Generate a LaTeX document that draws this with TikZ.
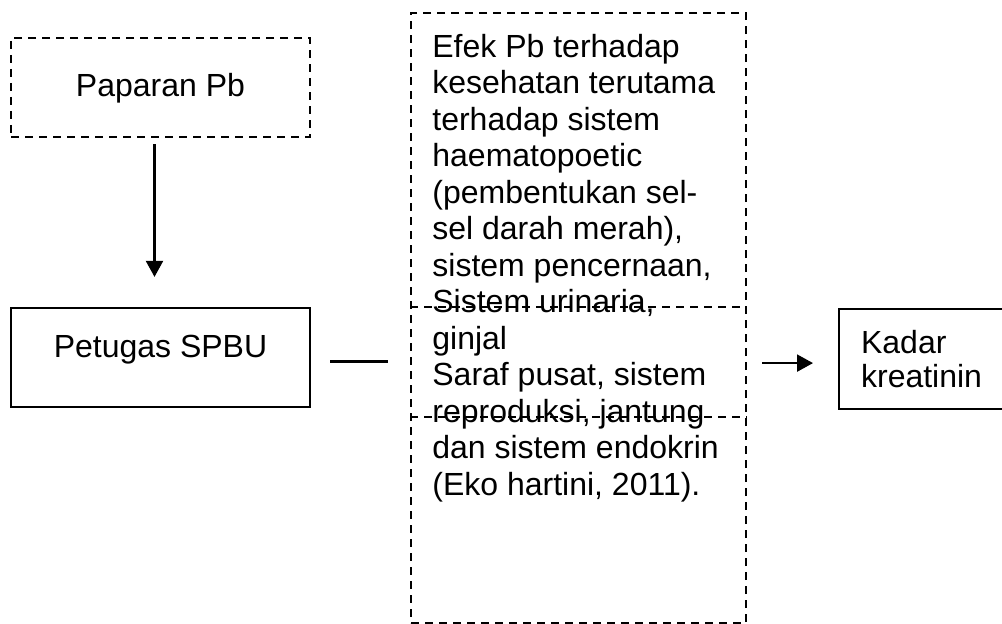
\documentclass[tikz,border=0pt]{standalone}
\usepackage{fontspec}
\setmainfont{Liberation Sans}
\usetikzlibrary{arrows.meta}
\tikzstyle{box} = [rectangle, draw=black, line width=1.1pt, inner sep=0pt, font=\fontsize{16}{18.25}\selectfont]
\tikzstyle{dashbox} = [box, dash pattern=on 4pt off 3pt]
\tikzstyle{arrow} = [line width=1.1pt, -{Triangle[length=8pt,width=8.5pt]}]
\tikzstyle{link} = [line width=1.1pt]

\begin{document}
\begin{tikzpicture}[x=0.5pt, y=-0.5pt]
    \useasboundingbox (0,0) rectangle (1002,624);
    \clip (0,0) rectangle (1002,624);

    \node (paparan) [dashbox, minimum width=149.5pt, text height=29.25pt, text depth=20.25pt] at (160.5,87.5) {Paparan Pb};
    \node (petugas) [box, minimum width=149.5pt, text height=25pt, text depth=24.5pt] at (160.5,357.5) {Petugas SPBU};
    \node (efekbox) [dashbox, anchor=north west, minimum width=167.5pt, minimum height=305pt] at (410,12) {};
    \node (efek) [anchor=north west, align=left, inner sep=0pt, font=\fontsize{16}{18.25}\selectfont] at (432,33.5)
      {Efek Pb terhadap\\kesehatan terutama\\terhadap sistem\\haematopoetic\\(pembentukan sel-\\sel darah merah),\\sistem pencernaan,\\Sistem urinaria,\\ginjal\\Saraf pusat, sistem\\reproduksi, jantung\\dan sistem endokrin\\(Eko hartini, 2011).};
    \node (kadar) [box, anchor=north west, minimum width=86pt, minimum height=50pt, text width=64pt, inner xsep=11pt, align=left, font=\fontsize{16}{17}\selectfont] at (838,308) {Kadar\\kreatinin};

    % dividers inside the dashed text box
    \draw [dashbox] ([yshift=-147.5pt]efekbox.north west) -- ([yshift=-147.5pt]efekbox.north east);
    \draw [dashbox] ([yshift=-202.5pt]efekbox.north west) -- ([yshift=-202.5pt]efekbox.north east);

    \draw [arrow, shorten <=3pt, shorten >=15pt] ([xshift=-3pt]paparan.south) -- ([xshift=-3pt]petugas.north);
    \draw [link, shorten <=9.5pt, shorten >=11pt] ([yshift=-2pt]petugas.east) -- ([yshift=-2pt]petugas.east -| efekbox.west);
    \draw [arrow, shorten <=7.5pt, shorten >=12.5pt] ([yshift=-2pt]kadar.west -| efekbox.east) -- ([yshift=-2pt]kadar.west);
\end{tikzpicture}
\end{document}
